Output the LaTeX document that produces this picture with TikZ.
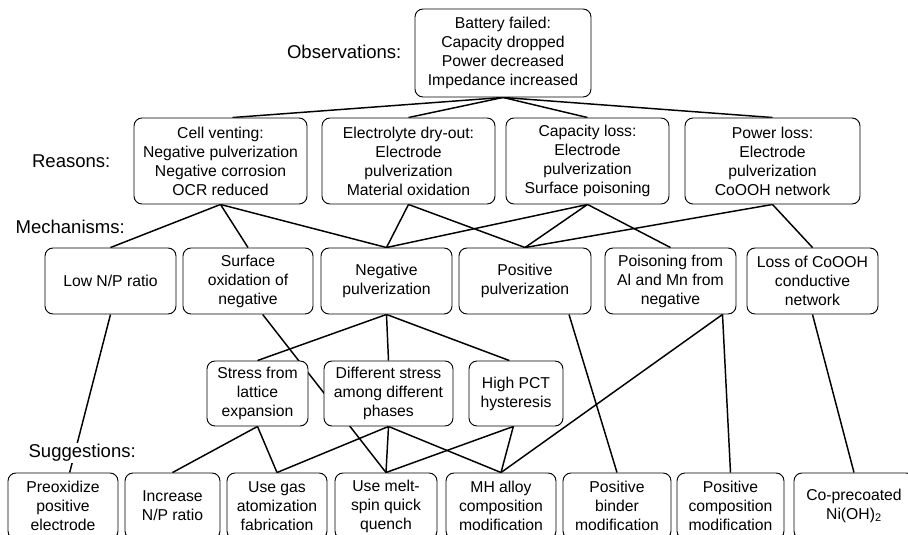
\documentclass[tikz,border=0pt]{standalone}
\usepackage{amsmath}
\usepackage{xcolor}
\usepackage{fontspec}
\setmainfont{Liberation Sans}
\usepackage{tikz}
\usetikzlibrary{backgrounds}

\begin{document}
\begin{tikzpicture}[x=0.75pt,y=0.75pt,yscale=-1,xscale=1,
  box/.style={draw, line width=0.7pt, rounded corners=6pt, fill=white, align=center,
    inner sep=1pt, font=\fontsize{11.8}{14.25}\selectfont},
  level/.style={inner sep=1pt, font=\fontsize{13.9}{16}\selectfont},
  link/.style={line width=1.1pt}]

\useasboundingbox (0,0) rectangle (908,535);

% level labels
\node [level, anchor=east] (lobs) at (403,52) {Observations:};
\node [level, anchor=east] (lrea) at (112,161) {Reasons:};
\node [level, anchor=west] (lmec) at (14,227) {Mechanisms:};
\node [level, anchor=west, fill=white] (lsug) at (27,453) {Suggestions:};

% observations
\node [box, minimum width=132pt, minimum height=66pt] (obs) at (503,53) {Battery failed:\\Capacity dropped\\Power decreased\\Impedance increased};

% reasons
\node [box, minimum width=129.75pt, minimum height=64.5pt] (vent) at (220.5,161) {Cell venting:\\Negative pulverization\\Negative corrosion\\OCR reduced};
\node [box, minimum width=129.75pt, minimum height=64.5pt] (dry) at (408.5,161) {Electrolyte dry-out:\\Electrode\\pulverization\\Material oxidation};
\node [box, minimum width=122.25pt, minimum height=64.5pt] (cap) at (587.5,161) {Capacity loss:\\Electrode\\pulverization\\Surface poisoning};
\node [box, minimum width=131.25pt, minimum height=64.5pt] (pow) at (772.5,161) {Power loss:\\Electrode\\pulverization\\CoOOH network};

% mechanisms
\node [box, minimum width=98.25pt, minimum height=49.5pt] (np) at (110.5,281) {Low N/P ratio};
\node [box, minimum width=97.5pt, minimum height=49.5pt] (surf) at (248,281) {Surface\\oxidation of\\negative};
\node [box, minimum width=98.25pt, minimum height=49.5pt] (negp) at (386.5,281) {Negative\\pulverization};
\node [box, minimum width=99pt, minimum height=49.5pt] (posp) at (525,281) {Positive\\pulverization};
\node [box, minimum width=98.25pt, minimum height=49.5pt] (pois) at (670.5,281) {Poisoning from\\Al and Mn from\\negative};
\node [box, minimum width=98.25pt, minimum height=49.5pt] (cooh) at (812.5,281) {Loss of CoOOH\\conductive\\network};

% pulverization causes
\node [box, minimum width=75.75pt, minimum height=48.75pt] (lat) at (257.5,393.5) {Stress from\\lattice\\expansion};
\node [box, minimum width=96.75pt, minimum height=48.75pt] (phase) at (388.5,393.5) {Different stress\\among different\\phases};
\node [box, minimum width=70.5pt, minimum height=48.75pt] (pct) at (516,393.5) {High PCT\\hysteresis};

% suggestions
\node [box, minimum width=82.5pt, minimum height=49.5pt] (preox) at (63,506) {Preoxidize\\positive\\electrode};
\node [box, minimum width=71.25pt, minimum height=49.5pt] (incnp) at (172.5,506) {Increase\\N/P ratio};
\node [box, minimum width=75pt, minimum height=49.5pt] (gas) at (277,506) {Use gas\\atomization\\fabrication};
\node [box, minimum width=76.5pt, minimum height=49.5pt] (melt) at (386,506) {Use melt-\\spin quick\\quench};
\node [box, minimum width=82.5pt, minimum height=49.5pt] (mh) at (501,506) {MH alloy\\composition\\modification};
\node [box, minimum width=81pt, minimum height=49.5pt] (binder) at (617,506) {Positive\\binder\\modification};
\node [box, minimum width=80.25pt, minimum height=49.5pt] (poscomp) at (730.5,506) {Positive\\composition\\modification};
\node [box, minimum width=90pt, minimum height=49.5pt] (coat) at (854,506) {Co-precoated\\Ni(OH)\textsubscript{2}};

\begin{scope}[on background layer]
% observations to reasons
\draw [link] (obs.south) -- ([xshift=9pt]vent.north);
\draw [link] (obs.south) -- (dry.north);
\draw [link] (obs.south) -- (cap.north);
\draw [link] (obs.south) -- (pow.north);

% reasons to mechanisms
\draw [link] (np.north) -- (vent.south) -- (surf.north);
\draw [link] (vent.south) -- (negp.north);
\draw [link] (negp.north) -- (dry.south) -- (posp.north);
\draw [link] (negp.north) -- (cap.south) -- (posp.north);
\draw [link] (cap.south) -- (pois.north);
\draw [link] (posp.north) -- (pow.south) -- (cooh.north);

% mechanisms to causes and suggestions
\draw [link] (np.south) -- ([xshift=5pt]preox.north);
\draw [link] ([xshift=11pt]surf.south) -- (melt.north);
\draw [link] (lat.north) -- (negp.south) -- (phase.north);
\draw [link] (negp.south) -- ([xshift=-5pt]pct.north);
\draw [link] ([xshift=33pt]posp.south) -- (binder.north);
\draw [link] (mh.north) -- ([xshift=39pt]pois.south) -- (poscomp.north);
\draw [link] (cooh.south) -- (coat.north);

% causes to suggestions
\draw [link] (incnp.north) -- (lat.south) -- (gas.north);
\draw [link] (gas.north) -- (phase.south) -- (melt.north);
\draw [link] (phase.south) -- (mh.north);
\draw [link] (melt.north) -- ([xshift=-2pt]pct.south) -- (mh.north);
\end{scope}

\end{tikzpicture}
\end{document}
